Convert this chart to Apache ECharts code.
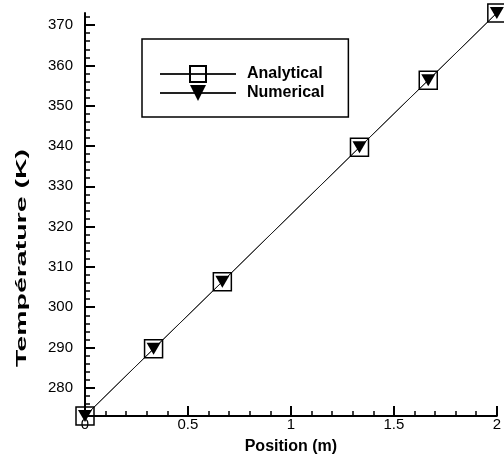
<!DOCTYPE html>
<html>
<head>
<meta charset="utf-8">
<script src="https://cdn.jsdelivr.net/npm/echarts@6/dist/echarts.min.js"></script>
<style>
  html, body { margin: 0; padding: 0; background: #fff; }
  #main { width: 504px; height: 463px; }
</style>
</head>
<body>
<div id="main"></div>
<script>
// positions des noeuds (m) et températures (K)
var positions = [0, 0.333, 0.667, 1.333, 1.667, 2];
var analyticalTemp = [273, 289.67, 306.33, 339.67, 356.33, 373];
var numericalTemp = [273, 289.67, 306.33, 339.67, 356.33, 373];

// graduations de l'axe Y
var yTicks = [280, 290, 300, 310, 320, 330, 340, 350, 360, 370];
var yMinorTicks = [274, 276, 278, 282, 284, 286, 288, 292, 294, 296, 298,
    302, 304, 306, 308, 312, 314, 316, 318, 322, 324, 326, 328,
    332, 334, 336, 338, 342, 344, 346, 348, 352, 354, 356, 358,
    362, 364, 366, 368, 372];

var font = '"Liberation Sans", Arial, sans-serif';

function pairs(xs, ys) {
    return xs.map(function (x, i) { return [x, ys[i]]; });
}

var myChart = echarts.init(document.getElementById('main'));
myChart.setOption({
    animation: false,
    grid: { left: 85, right: 5, top: 13, bottom: 47 },
    legend: {
        orient: 'vertical',
        left: 142,
        top: 39,
        padding: [26, 24, 16, 17],
        borderColor: '#000',
        borderWidth: 1.5,
        itemWidth: 76,
        itemHeight: 20,
        itemGap: 2,
        selectedMode: false,
        textStyle: { fontFamily: font, fontWeight: 'bold', fontSize: 16, color: '#000', padding: [0, 0, 0, 6] },
        data: ['Analytical', 'Numerical']
    },
    xAxis: {
        type: 'value',
        min: 0,
        max: 2,
        interval: 0.5,
        name: 'Position (m)',
        nameLocation: 'middle',
        nameGap: 23,
        nameTextStyle: { fontFamily: font, fontWeight: 'bold', fontSize: 16, color: '#000' },
        axisLine: { lineStyle: { color: '#000', width: 2 } },
        axisTick: { inside: true, length: 10, lineStyle: { color: '#000', width: 2 } },
        minorTick: { show: true, splitNumber: 5, length: 5, lineStyle: { color: '#000', width: 1.5 } },
        axisLabel: { margin: 1, fontFamily: font, fontSize: 15, color: '#000' },
        splitLine: { show: false }
    },
    yAxis: [
        {
            type: 'value',
            min: 273,
            max: 373,
            axisLine: { show: true, lineStyle: { color: '#000', width: 2 } },
            axisTick: { show: true, inside: true, length: 10, customValues: yTicks, lineStyle: { color: '#000', width: 2 } },
            axisLabel: { margin: 12, fontFamily: font, fontSize: 15, color: '#000', customValues: yTicks },
            splitLine: { show: false }
        },
        {
            type: 'value',
            min: 273,
            max: 373,
            position: 'left',
            axisLine: { show: false },
            axisTick: { show: true, inside: true, length: 5, customValues: yMinorTicks, lineStyle: { color: '#000', width: 1.5 } },
            axisLabel: { show: false },
            splitLine: { show: false }
        }
    ],
    graphic: [{
        type: 'text',
        x: 22,
        y: 258,
        rotation: Math.PI / 2,
        scaleX: 1.9,
        style: {
            text: 'Température (K)',
            font: 'bold 15px ' + font,
            fill: '#000',
            align: 'center',
            verticalAlign: 'middle'
        }
    }],
    series: [
        {
            name: 'Analytical',
            type: 'line',
            clip: false,
            symbol: 'rect',
            symbolSize: 18,
            itemStyle: { color: 'rgba(255,255,255,0)', borderColor: '#000', borderWidth: 1.5 },
            lineStyle: { color: '#222', width: 1 },
            data: pairs(positions, analyticalTemp)
        },
        {
            name: 'Numerical',
            type: 'line',
            clip: false,
            symbol: 'path://M0,0L10,0L5,9Z',
            symbolSize: [14, 12],
            itemStyle: { color: '#000' },
            lineStyle: { color: '#222', width: 1 },
            data: pairs(positions, numericalTemp)
        }
    ]
});
</script>
</body>
</html>
